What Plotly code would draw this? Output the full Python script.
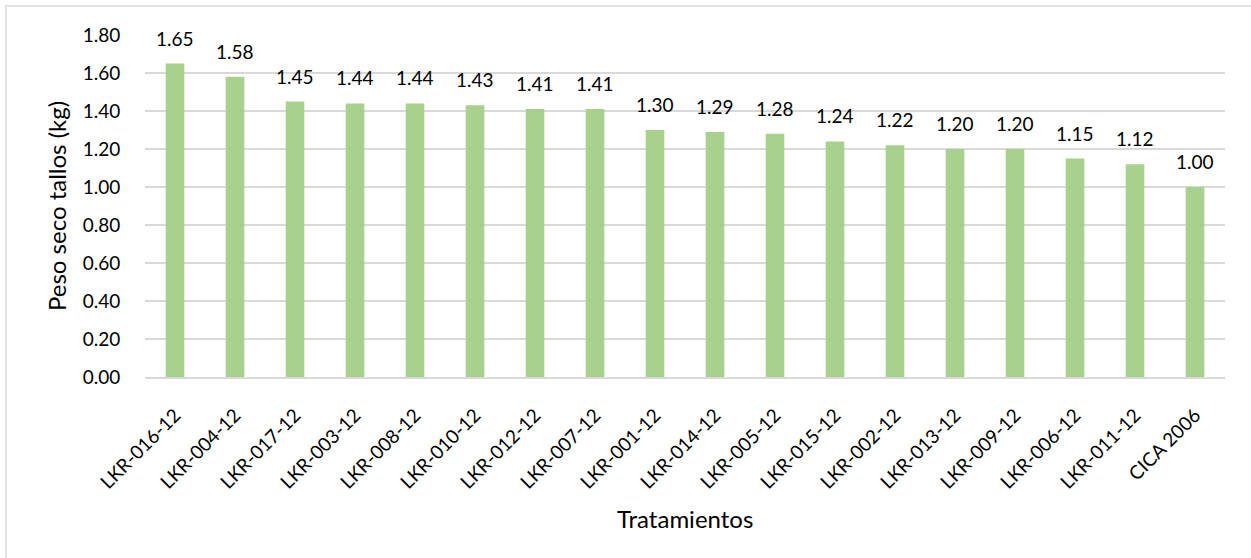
import plotly.graph_objects as go

tratamientos = ["LKR-016-12", "LKR-004-12", "LKR-017-12", "LKR-003-12", "LKR-008-12",
                "LKR-010-12", "LKR-012-12", "LKR-007-12", "LKR-001-12", "LKR-014-12",
                "LKR-005-12", "LKR-015-12", "LKR-002-12", "LKR-013-12", "LKR-009-12",
                "LKR-006-12", "LKR-011-12", "CICA 2006"]
peso_seco = [1.65, 1.58, 1.45, 1.44, 1.44, 1.43, 1.41, 1.41, 1.30, 1.29,
             1.28, 1.24, 1.22, 1.20, 1.20, 1.15, 1.12, 1.00]
y_ticks = [0.0, 0.2, 0.4, 0.6, 0.8, 1.0, 1.2, 1.4, 1.6, 1.8]

W, H = 1251, 558
ML, MR, MT, MB = 145, 26, 35, 181
PW, PH = W - ML - MR, H - MT - MB
font_family = "Lato, 'Open Sans', sans-serif"
tick_size = 19
title_size = 24


def px_x(p):
    return (p - ML) / PW


def px_y(p):
    return (H - MB - p) / PH


fig = go.Figure(go.Bar(
    x=tratamientos,
    y=peso_seco,
    marker=dict(color="#a9d18e", line=dict(width=0)),
    hoverinfo="x+y",
))

# value labels above each bar
for cat, val in zip(tratamientos, peso_seco):
    fig.add_annotation(
        x=cat, y=val, xref="x", yref="y",
        text=f"{val:.2f}", showarrow=False,
        yanchor="bottom", yshift=12,
        font=dict(size=tick_size, color="#000000", family=font_family),
    )

# axis titles
fig.add_annotation(
    x=px_x(56), y=0.5, xref="paper", yref="paper",
    text="Peso seco tallos (kg)", showarrow=False, textangle=-90,
    xanchor="center", yanchor="middle",
    font=dict(size=title_size, color="#000000", family=font_family),
)
fig.add_annotation(
    x=px_x(685), y=px_y(518), xref="paper", yref="paper",
    text="Tratamientos", showarrow=False,
    xanchor="center", yanchor="middle",
    font=dict(size=title_size, color="#000000", family=font_family),
)

# chart frame (right and bottom edges fall outside the canvas)
fig.add_shape(
    type="rect", xref="paper", yref="paper",
    x0=px_x(6), x1=px_x(W + 10),
    y0=px_y(H + 10), y1=px_y(6),
    line=dict(color="#d9d9d9", width=1.5), fillcolor="rgba(0,0,0,0)", layer="below",
)

fig.update_layout(
    width=W, height=H,
    margin=dict(l=ML, r=MR, t=MT, b=MB, autoexpand=False),
    paper_bgcolor="white", plot_bgcolor="white",
    bargap=0.69,
    showlegend=False,
    font=dict(family=font_family, size=tick_size, color="#000000"),
    xaxis=dict(
        tickangle=-45, tickfont=dict(size=tick_size), showgrid=False,
        showline=True, linecolor="#d9d9d9", linewidth=1.5,
        ticks="outside", ticklen=18, tickcolor="rgba(0,0,0,0)",
        automargin=False,
    ),
    yaxis=dict(
        range=[0, 1.8], tickvals=y_ticks, tickformat=".2f",
        showgrid=True, gridcolor="#d9d9d9", gridwidth=1.5,
        zeroline=False, showline=False,
        ticks="outside", ticklen=20, tickcolor="rgba(0,0,0,0)",
        tickfont=dict(size=tick_size), automargin=False,
    ),
)

fig.write_html("out.html")
